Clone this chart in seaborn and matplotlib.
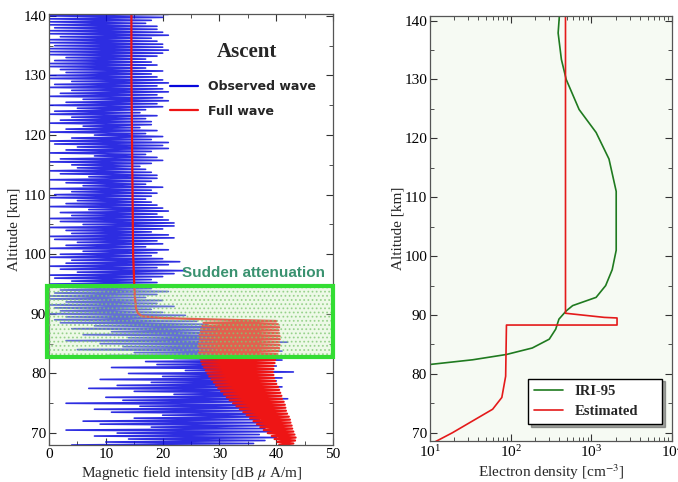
import matplotlib
matplotlib.use('Agg')
import matplotlib.pyplot as plt
import matplotlib.patches as mpatches
from matplotlib.ticker import MultipleLocator, LogLocator
import numpy as np
import pandas as pd
import seaborn as sns

# altitude grid of the observed wave samples (km), every 0.5 km
obs_alt = np.arange(68.0, 140.01, 0.5)

# observed wave: maximum of each oscillation (dB uA/m)
obs_peak = [36, 38, 40, 37, 41, 38, 39, 40, 37, 41, 40, 38, 41, 39, 38, 42,
            40, 37, 39, 41, 38, 40, 41, 39, 43, 38, 40, 39, 41, 38, 39, 41,
            38, 40, 42, 36, 38, 33, 30, 35, 28, 26, 22, 24, 20, 18, 22, 19,
            20, 17, 19, 21, 18, 20, 19, 18, 20, 22, 24, 19, 21, 23, 20, 18,
            19, 21, 17, 20, 19, 22, 21, 18, 20, 22, 22, 21, 20, 19, 21, 20,
            19, 18, 17, 18, 19, 18, 20, 17, 18, 19, 19, 18, 17, 16, 18, 20,
            19, 17, 18, 21, 20, 21, 18, 20, 17, 19, 16, 18, 18, 17, 19, 16,
            17, 20, 19, 21, 20, 19, 21, 20, 19, 21, 20, 19, 18, 20, 17, 19,
            18, 17, 19, 20, 21, 20, 20, 19, 18, 21, 20, 19, 19, 17, 18, 20,
            21]
# observed wave: minimum of each oscillation
obs_trough = [4, 10, 14, 8, 12, 3, 18, 9, 6, 15, 20, 11, 8, 16, 3, 13,
              10, 22, 15, 7, 12, 18, 9, 20, 14, 24, 11, 19, 17, 22, 10, 15,
              5, 13, 9, 3, 14, 6, 11, 4, 8, 2, 1, 3, 0, 2, 1, 0,
              3, 0, 0, 1, 2, 0, 0, 4, 1, 0, 5, 2, 0, 3, 4, 0,
              2, 6, 0, 3, 5, 1, 0, 4, 3, 0, 6, 2, 0, 4, 2, 7,
              0, 3, 5, 0, 1, 4, 0, 6, 3, 0, 7, 2, 0, 5, 4, 0,
              2, 8, 0, 3, 5, 1, 0, 4, 8, 0, 3, 6, 0, 2, 4, 0,
              1, 5, 0, 3, 6, 0, 2, 4, 0, 1, 4, 0, 0, 3, 2, 0,
              0, 1, 3, 0, 0, 0, 1, 0, 0, 2, 0, 0, 1, 0, 0, 0,
              0]

# full wave standing-wave band below 89 km
fw_alt = np.arange(68.0, 88.51, 0.5)
fw_lo = [40.5, 40.2, 39.7, 39.2, 38.5, 37.8, 37.2, 36.6, 36.0, 35.4,
         34.8, 34.2, 33.6, 33.0, 32.4, 31.8, 31.3, 30.8, 30.3, 29.8,
         29.4, 29.0, 28.6, 28.2, 27.9, 27.6, 27.3, 27.0, 26.8, 26.6,
         26.5, 26.4, 26.5, 26.3, 26.4, 26.5, 26.6, 26.5, 26.7, 26.8,
         27.0, 27.2]
fw_hi = [43.0, 43.3, 43.4, 43.2, 43.0, 42.8, 42.7, 42.5, 42.4, 42.2,
         41.9, 41.7, 41.6, 41.5, 41.3, 41.0, 40.9, 40.7, 40.5, 40.3,
         40.0, 39.8, 39.6, 39.5, 39.4, 39.5, 39.5, 39.7, 39.8, 40.0,
         40.2, 40.4, 40.5, 40.6, 40.5, 40.6, 40.6, 40.5, 40.4, 40.5,
         40.3, 40.0]
# full wave above the band
fw_up_alt = [88.8, 89.1, 89.3, 89.6, 90.2, 91, 93, 95, 100, 110, 120, 130, 140.3]
fw_up_val = [40.0, 27.0, 20.0, 16.3, 15.6, 15.3, 15.1, 15.0, 14.8, 14.7, 14.6, 14.5, 14.5]

# electron density profiles (cm^-3)
iri_alt = [81.6, 82.4, 83.3, 84.4, 85.9, 87.6, 89.3, 90.7, 91.6, 93.0, 95.0,
           97.7, 101.0, 106.0, 111.0, 116.5, 121.0, 124.9, 130.0, 133.4, 137.9, 140.8]
iri_ne = [10, 34, 89, 186, 302, 363, 398, 490, 589, 1150, 1510,
          1820, 2040, 2040, 2040, 1660, 1150, 708, 490, 427, 389, 403]
est_alt = [68.0, 70.0, 74.0, 76.0, 79.6, 88.3, 88.3, 88.7, 89.5, 89.6, 90.3, 140.8]
est_ne = [10, 19, 60, 78, 87, 89, 2090, 2090, 2090, 1450, 480, 480]

sns.set_style('ticks')
plt.rcParams['font.family'] = ['Liberation Serif', 'DejaVu Serif']
plt.rcParams['mathtext.fontset'] = 'stix'
plt.rcParams['hatch.linewidth'] = 0.8

fig = plt.figure(figsize=(6.78, 4.82), dpi=100)
ax1 = fig.add_axes([0.0723, 0.0768, 0.419, 0.894])
ax2 = fig.add_axes([0.634, 0.085, 0.357, 0.882])


def zigzag(alt, lo, hi):
    # one line going lo -> hi -> lo ... up the altitude
    xs, ys = [], []
    for a, l, h in zip(alt, lo, hi):
        xs += [l, h]
        ys += [a, a + 0.25]
    return pd.DataFrame({'val': xs, 'alt': ys})


obs = zigzag(obs_alt, obs_trough, obs_peak)
sns.lineplot(data=obs, x='val', y='alt', sort=False, estimator=None,
             color='#0808dc', lw=1.2, alpha=0.85, ax=ax1, label='Observed wave')

fw = zigzag(fw_alt, fw_lo, fw_hi)
fw = pd.concat([fw, pd.DataFrame({'val': fw_up_val, 'alt': fw_up_alt})])
sns.lineplot(data=fw, x='val', y='alt', sort=False, estimator=None,
             color='#ee1515', lw=1.6, ax=ax1, label='Full wave')

# sudden attenuation box
ax1.add_patch(mpatches.Rectangle((-0.4, 82.8), 50.4, 11.9, facecolor=(0.8, 0.94, 0.74, 0.35),
                                 edgecolor=(0.5, 0.78, 0.45, 0.7), hatch='....', lw=0,
                                 clip_on=False, zorder=3))
ax1.add_patch(mpatches.Rectangle((-0.4, 82.8), 50.4, 11.9, fill=False,
                                 edgecolor='#33dd33', lw=3, clip_on=False, zorder=4))
ax1.text(23.4, 96.9, 'Sudden attenuation', family='Liberation Sans', weight='bold',
         fontsize=11, color='#3a9270', va='center', ha='left')
ax1.text(34.9, 134, 'Ascent', fontsize=15, weight='bold', ha='center', va='center')

leg = ax1.legend(loc='upper left', bbox_to_anchor=(0.385, 0.872), frameon=False,
                 handlelength=2.3, labelspacing=0.9,
                 prop={'family': 'DejaVu Sans', 'weight': 'bold', 'size': 9})
for line in leg.get_lines():
    line.set_linewidth(1.6)
    line.set_alpha(1)

ax1.set_xlim(0, 50)
ax1.set_ylim(68, 140.3)
ax1.xaxis.set_major_locator(MultipleLocator(10))
ax1.xaxis.set_minor_locator(MultipleLocator(5))
ax1.yaxis.set_major_locator(MultipleLocator(10))
ax1.yaxis.set_minor_locator(MultipleLocator(5))
ax1.set_xlabel('Magnetic field intensity [dB $\\mu$ A/m]', fontsize=11, labelpad=2)
ax1.set_ylabel('Altitude [km]', fontsize=11, labelpad=2)

# right panel
ax2.set_facecolor('#f6faf3')
ax2.set_xscale('log')
sns.lineplot(x=iri_ne, y=iri_alt, sort=False, estimator=None, color='#1f7a1f',
             lw=1.2, ax=ax2, label='IRI-95')
sns.lineplot(x=est_ne, y=est_alt, sort=False, estimator=None, color='#e41a1a',
             lw=1.2, ax=ax2, label='Estimated')
ax2.set_xlim(10, 10000)
ax2.set_ylim(68.6, 140.8)
ax2.xaxis.set_major_locator(LogLocator(base=10, numticks=10))
ax2.xaxis.set_minor_locator(LogLocator(base=10, subs=np.arange(2, 10), numticks=20))
ax2.yaxis.set_major_locator(MultipleLocator(10))
ax2.yaxis.set_minor_locator(MultipleLocator(5))
ax2.set_xlabel('Electron density [cm$^{-3}$]', fontsize=11, labelpad=2)
ax2.set_ylabel('Altitude [km]', fontsize=11, labelpad=0)
ax2.legend(loc='lower left', bbox_to_anchor=(0.405, 0.04, 0.554, 0.12), mode='expand',
           fancybox=False, shadow=True, edgecolor='black', framealpha=1,
           handlelength=2.0, borderaxespad=0,
           prop={'family': 'Liberation Serif', 'weight': 'bold', 'size': 10.5})

for ax in (ax1, ax2):
    ax.tick_params(which='both', direction='in', top=True, right=True, labelsize=11,
                   pad=2, colors='#333333', labelcolor='black')
    ax.tick_params(which='major', length=5)
    ax.tick_params(which='minor', length=3)
    for s in ax.spines.values():
        s.set_color('#555555')
        s.set_linewidth(0.9)

fig.savefig('out.png', dpi=100)
